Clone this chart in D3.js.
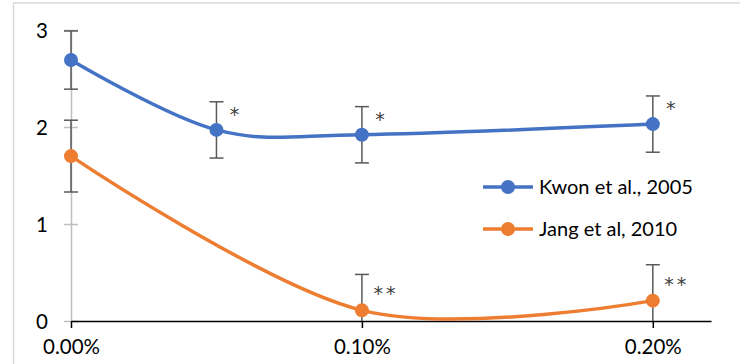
<!DOCTYPE html>
<html><head><meta charset="utf-8">
<script src="https://cdn.jsdelivr.net/npm/d3@7/dist/d3.min.js"></script>
<style>body{margin:0;background:#fff}text{font-family:Lato,"Open Sans",sans-serif}</style>
</head><body>
<svg id="c" width="743" height="364"></svg>
<script>
const doses = [0, 0.0005, 0.001, 0.002];
const kwonValues = [2.69, 1.97, 1.92, 2.03];
const kwonErrors = [0.30, 0.29, 0.29, 0.29];
const kwonMarks = ["", "*", "*", "*"];
const jangDoses = [0, 0.001, 0.002];
const jangValues = [1.70, 0.11, 0.21];
const jangErrors = [0.37, 0.37, 0.37];
const jangMarks = ["", "**", "**"];
const xTicks = [0, 0.001, 0.002];
const yTicks = [0, 1, 2, 3];
const seriesNames = ["Kwon et al., 2005", "Jang et al, 2010"];
const colors = ["#4472C4", "#ED7D31"];

const svg = d3.select("#c");
// frame
svg.append("line").attr("x1",13.5).attr("x2",13.5).attr("y1",3).attr("y2",364).attr("stroke","#d9d9d9").attr("stroke-width",1.5);
svg.append("line").attr("x1",13).attr("x2",740).attr("y1",3).attr("y2",3).attr("stroke","#d9d9d9").attr("stroke-width",1.5);

const x = d3.scaleLinear().domain([0, 0.0022]).range([71, 711]);
const y = d3.scaleLinear().domain([0, 3]).range([321, 30]);

svg.append("defs").append("clipPath").attr("id","clip").append("rect")
  .attr("x",0).attr("y",0).attr("width",743).attr("height",321);

// y axis
const ya = svg.append("g").attr("transform","translate(71,0)")
  .call(d3.axisLeft(y).tickValues(yTicks).tickFormat(d3.format("d")).tickSizeInner(0).tickSizeOuter(0).tickPadding(23));
ya.select(".domain").attr("stroke","#bfbfbf").attr("stroke-width",1.5);
ya.selectAll(".tick").append("line").attr("x1",-7).attr("x2",7).attr("stroke","#bfbfbf").attr("stroke-width",1.5);
ya.selectAll("text").attr("font-size",20.5).attr("fill","#000").attr("dy","0.35em");

// x axis
const xa = svg.append("g").attr("transform","translate(0,321)")
  .call(d3.axisBottom(x).tickValues(xTicks).tickFormat(d3.format(".2%")).tickSizeInner(7).tickSizeOuter(0).tickPadding(11));
xa.select(".domain").attr("stroke","#000").attr("stroke-width",1.5);
xa.selectAll(".tick line").attr("stroke","#000").attr("stroke-width",1.5);
xa.selectAll("text").attr("font-size",20.5).attr("fill","#000");

const series = [
  {pts: doses.map((d,i)=>({x:d, v:kwonValues[i], e:kwonErrors[i], m:kwonMarks[i]})), color: colors[0], dx: 18, dy: -19},
  {pts: jangDoses.map((d,i)=>({x:d, v:jangValues[i], e:jangErrors[i], m:jangMarks[i]})), color: colors[1], dx: 24, dy: -20}
];

const line = d3.line().x(d=>x(d.x)).y(d=>y(d.v)).curve(d3.curveCardinal.tension(0));

series.forEach(s=>{
  const eb = svg.append("g").attr("clip-path","url(#clip)");
  s.pts.forEach(p=>{
    const cx = x(p.x), y1 = y(p.v+p.e), y2 = y(p.v-p.e);
    eb.append("line").attr("x1",cx).attr("x2",cx).attr("y1",y1).attr("y2",y2).attr("stroke","#595959").attr("stroke-width",1.5);
    [y1,y2].forEach(yy=>eb.append("line").attr("x1",cx-7).attr("x2",cx+7).attr("y1",yy).attr("y2",yy).attr("stroke","#595959").attr("stroke-width",1.5));
  });
});

series.forEach(s=>{
  svg.append("path").datum(s.pts).attr("d",line).attr("fill","none").attr("stroke",s.color).attr("stroke-width",3.5);
  svg.selectAll(null).data(s.pts).enter().append("circle")
    .attr("cx",d=>x(d.x)).attr("cy",d=>y(d.v)).attr("r",7).attr("fill",s.color);
  svg.selectAll(null).data(s.pts.filter(d=>d.m)).enter().append("text")
    .attr("x",d=>x(d.x)+s.dx).attr("y",d=>y(d.v)+s.dy+10)
    .attr("text-anchor","middle")
    .style("font-family","'DejaVu Sans'")
    .attr("font-size",19).attr("fill","#404040").attr("letter-spacing",d=>d.m.length>1?3:0)
    .text(d=>d.m);
});

// legend
const leg = svg.append("g");
seriesNames.forEach((n,i)=>{
  const ly = [187, 229][i];
  leg.append("line").attr("x1",483).attr("x2",533).attr("y1",ly).attr("y2",ly).attr("stroke",colors[i]).attr("stroke-width",3.5);
  leg.append("circle").attr("cx",508).attr("cy",ly).attr("r",7).attr("fill",colors[i]);
  leg.append("text").attr("x",539).attr("y",ly).attr("dy","0.35em").attr("font-size",20).attr("fill","#000").text(n);
});
</script>
</body></html>
